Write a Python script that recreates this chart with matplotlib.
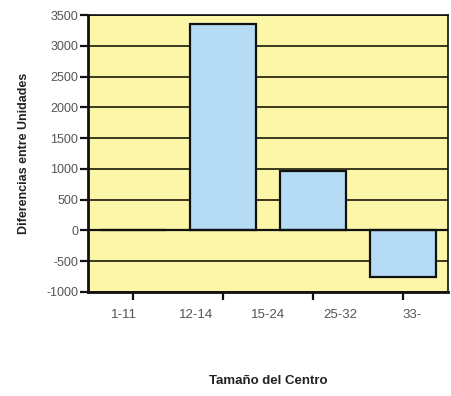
import matplotlib
matplotlib.use("Agg")
import matplotlib.pyplot as plt

plt.rcParams['font.family'] = ['Liberation Sans Narrow', 'Liberation Sans', 'DejaVu Sans']

# data
categories = ["1-11", "12-14", "15-24", "25-32", "33-"]
slots = [1, 2, 3, 4]
values = [0, 3350, 970, -760]
yticks = [-1000, -500, 0, 500, 1000, 1500, 2000, 2500, 3000, 3500]

fig = plt.figure(figsize=(4.52, 3.96), dpi=100)
ax = fig.add_axes([0.195, 0.263, 0.796, 0.699])
ax.set_facecolor("#fbf6a8")

ax.bar(slots, values, width=0.74, color="#b5dbf5", edgecolor="#111111",
       linewidth=1.6, zorder=3)

ax.set_xlim(0.5, 4.5)
ax.set_ylim(-1000, 3500)
ax.set_yticks(yticks)
ax.set_yticklabels([str(t) for t in yticks], color="#555555", fontsize=9)
ax.yaxis.grid(True, color="#2b2b14", linewidth=1.3, zorder=1)
ax.axhline(0, color="#111111", linewidth=1.6, zorder=4)

# ticks sit on the bar slots, labels are spread evenly over the axis
ax.set_xticks(slots)
ax.set_xticklabels([])
for i, lab in enumerate(categories):
    ax.text((i + 0.5) / len(categories), -0.085, lab, transform=ax.transAxes,
            ha="center", va="center", fontsize=9.5, color="#555555")

ax.tick_params(axis="both", direction="out", length=6, width=1.6, color="#111111")
ax.tick_params(axis="y", pad=1)
for s in ["left", "bottom"]:
    ax.spines[s].set_linewidth(2)
for s in ["top", "right"]:
    ax.spines[s].set_linewidth(1.2)
for s in ax.spines.values():
    s.set_color("#111111")

ax.set_ylabel("Diferencias entre Unidades", fontsize=9, fontweight="bold",
              color="#222222", labelpad=12)
fig.text(0.593, 0.038, "Tamaño del Centro", ha="center", va="center",
         fontsize=9.5, fontweight="bold", color="#222222")

fig.savefig("out.png", dpi=100)
